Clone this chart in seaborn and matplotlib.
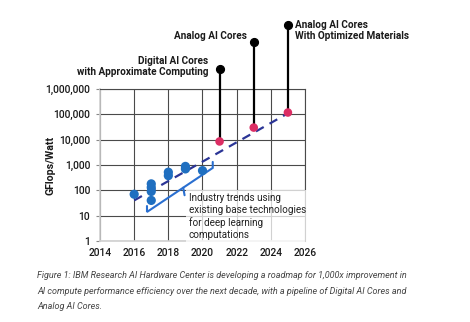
import matplotlib
matplotlib.use("Agg")
import matplotlib.pyplot as plt
import matplotlib.ticker as mticker
import numpy as np
import pandas as pd
import seaborn as sns

# Measured efficiency of existing hardware (GFlops/Watt)
industry_years = [2016, 2017, 2017, 2017, 2017, 2018, 2018, 2019, 2019, 2020]
industry_values = [70, 180, 130, 90, 40, 520, 380, 880, 700, 600]

# Roadmap milestones
roadmap_years = [2021, 2023, 2025]
roadmap_values = [8500, 30000, 118000]
roadmap_labels = [
    "Digital AI Cores\nwith Approximate Computing",
    "Analog AI Cores",
    "Analog AI Cores\nWith Optimized Materials",
]
# height of the callout pins above each milestone
pin_values = [6.0e6, 7.5e7, 3.4e8]

# Trend line endpoints
trend_years = [2016, 2025]
trend_values = [40, 110000]

x_ticks = [2014, 2016, 2018, 2020, 2022, 2024, 2026]
y_ticks = [1, 10, 100, 1000, 10000, 100000, 1000000]

industry_note = ("Industry trends using\nexisting base technologies\n"
                 "for deep learning\ncomputations")
caption = ("Figure 1: IBM Research AI Hardware Center is developing a roadmap for 1,000x improvement in\n"
           "AI compute performance efficiency over the next decade, with a pipeline of Digital AI Cores and\n"
           "Analog AI Cores.")

sns.set_theme(style="white")
plt.rcParams["font.family"] = ["Roboto", "DejaVu Sans"]

BLUE = "#1f6fc0"
RED = "#dc2e64"
NAVY = "#2b3596"
GRID = "#4a4a4a"
INK = "#1a1a1a"

fig = plt.figure(figsize=(4.70, 3.22), dpi=100)
ax = fig.add_axes([0.2128, 0.2516, 0.4361, 0.4720])

industry = pd.DataFrame({"year": industry_years, "value": industry_values})
roadmap = pd.DataFrame({"year": roadmap_years, "value": roadmap_values})
trend = pd.DataFrame({"year": trend_years, "value": trend_values})

ax.set_yscale("log")
ax.set_xlim(2014, 2026)
ax.set_ylim(1, 1e6)

# dashed trend
sns.lineplot(data=trend, x="year", y="value", ax=ax, color=NAVY,
             linewidth=1.6, zorder=3)
ax.lines[-1].set_dashes([4, 3])

# pins from each milestone up to its label
for yr, v, top in zip(roadmap_years, roadmap_values, pin_values):
    ax.plot([yr, yr], [v, top], color="black", linewidth=1.6,
            clip_on=False, zorder=4, solid_capstyle="butt")
    ax.plot([yr], [top], "o", color="black", markersize=5.6,
            clip_on=False, zorder=5)

sns.scatterplot(data=industry, x="year", y="value", ax=ax, color=BLUE,
                s=44, edgecolor="none", zorder=6)
sns.scatterplot(data=roadmap, x="year", y="value", ax=ax, color=RED,
                s=38, edgecolor="none", zorder=6)

label_offsets = [(-11, 3), (-7, 6), (7, -6)]
label_align = ["right", "right", "left"]
for yr, top, text, off, ha in zip(roadmap_years, pin_values, roadmap_labels,
                                   label_offsets, label_align):
    ax.annotate(text, xy=(yr, top), xytext=off, textcoords="offset pixels",
                ha=ha, va="center", fontsize=7.2, fontweight="bold",
                color=INK, linespacing=1.15, annotation_clip=False)

# bracket under the industry points
bx = [2016.75, 2016.75, 2020.6, 2020.6]
by = [24, 14, 767, 1320]
ax.plot(bx, by, color="#2a6fd0", linewidth=1.5, zorder=5,
        solid_joinstyle="miter")
ax.plot([2018.87, 2018.95], [127, 64], color="#2a6fd0", linewidth=1.5,
        zorder=5)

ax.text(2019.2, 78, industry_note, ha="left", va="top", fontsize=7.1,
        color="#222222", linespacing=1.25, zorder=4,
        bbox=dict(boxstyle="square,pad=0.3", facecolor="white",
                  edgecolor="none", alpha=0.75))

ax.set_xticks(x_ticks)
ax.set_yticks(y_ticks)
ax.yaxis.set_major_formatter(mticker.FuncFormatter(lambda v, p: f"{v:,.0f}"))
ax.yaxis.set_minor_locator(mticker.NullLocator())
ax.grid(True, color=GRID, linewidth=0.8)
ax.set_axisbelow(True)
ax.tick_params(axis="y", length=3, width=0.8, color="#888888",
               labelsize=7.4, pad=4, left=True)
ax.tick_params(axis="x", length=0, labelsize=7.4, pad=5)
for lab in ax.get_xticklabels() + ax.get_yticklabels():
    lab.set_color(INK)
    lab.set_fontweight("medium")
for side in ["left", "bottom"]:
    ax.spines[side].set_color("#cfcfcf")
    ax.spines[side].set_linewidth(1.2)
    ax.spines[side].set_zorder(2)
for side in ["top", "right"]:
    ax.spines[side].set_color(GRID)
    ax.spines[side].set_linewidth(0.8)

ax.set_xlabel("")
ax.set_ylabel("GFlops/Watt", fontsize=7.6, fontweight="bold", color=INK)
ax.yaxis.set_label_coords(-0.215, 0.5)

fig.text(37 / 470, 1 - 271 / 322, caption, ha="left", va="top",
         fontsize=6.5, style="italic", color="#444444", linespacing=1.95)

fig.savefig("out.png", dpi=100, facecolor="white")
